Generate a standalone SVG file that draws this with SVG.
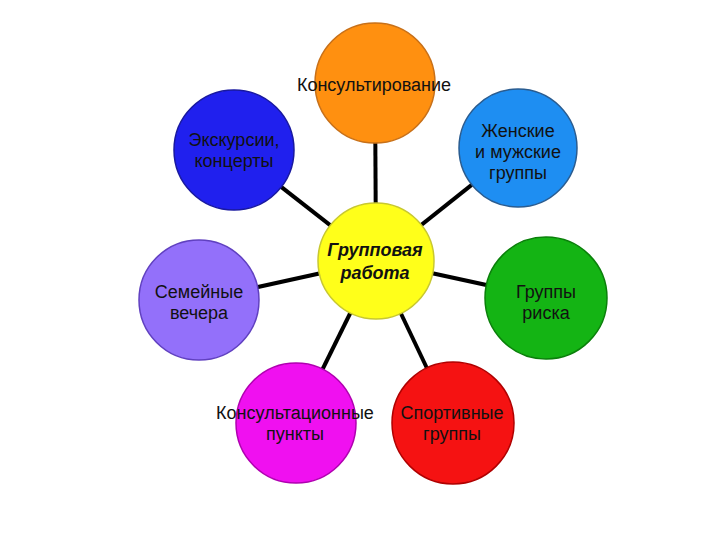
<svg xmlns="http://www.w3.org/2000/svg" width="720" height="540" viewBox="0 0 720 540">
<style>
.t{font-family:"Liberation Sans",Arial,sans-serif;font-size:18px;fill:#111;text-anchor:middle}
.b{font-weight:bold;font-style:italic}
.c{stroke-width:1.5}
.l{stroke:#000;stroke-width:4;fill:none}
</style>
<rect width="720" height="540" fill="#fff"/>
<g id="connectors">
<line class="l" x1="376" y1="261" x2="375" y2="83"/>
<line class="l" x1="376" y1="261" x2="234" y2="150"/>
<line class="l" x1="376" y1="261" x2="518" y2="148"/>
<line class="l" x1="376" y1="261" x2="199" y2="300"/>
<line class="l" x1="376" y1="261" x2="546" y2="298"/>
<line class="l" x1="376" y1="261" x2="296" y2="423"/>
<line class="l" x1="376" y1="261" x2="453" y2="423"/>
</g>
<g id="n-konsult">
<circle class="c" cx="375" cy="83" r="60" fill="#FF9010" stroke="#C87018"/>
<text class="t" x="374" y="91">Консультирование</text>
</g>
<g id="n-ekskursii">
<circle class="c" cx="234" cy="150" r="60" fill="#2020EE" stroke="#1818A0"/>
<text class="t" x="234" y="146">Экскурсии,</text>
<text class="t" x="234" y="167">концерты</text>
</g>
<g id="n-zhenskie">
<circle class="c" cx="518" cy="148" r="59" fill="#1E8EF2" stroke="#2A5C90"/>
<text class="t" x="518" y="137">Женские</text>
<text class="t" x="518" y="158">и мужские</text>
<text class="t" x="518" y="179">группы</text>
</g>
<g id="n-semeinye">
<circle class="c" cx="199" cy="300" r="60" fill="#9370FA" stroke="#6040C0"/>
<text class="t" x="199" y="298">Семейные</text>
<text class="t" x="199" y="319">вечера</text>
</g>
<g id="n-riska">
<circle class="c" cx="546" cy="298" r="61" fill="#14B414" stroke="#0A800A"/>
<text class="t" x="546" y="298">Группы</text>
<text class="t" x="546" y="319">риска</text>
</g>
<g id="n-punkty">
<circle class="c" cx="296" cy="423" r="60" fill="#F010F0" stroke="#B000B0"/>
<text class="t" x="295" y="419">Консультационные</text>
<text class="t" x="295" y="440">пункты</text>
</g>
<g id="n-sport">
<circle class="c" cx="453" cy="423" r="61" fill="#F51212" stroke="#B00000"/>
<text class="t" x="452" y="419">Спортивные</text>
<text class="t" x="452" y="440">группы</text>
</g>
<g id="n-center">
<circle class="c" cx="376" cy="261" r="58" fill="#FFFF1A" stroke="#C8C830"/>
<text class="t b" x="375" y="256">Групповая</text>
<text class="t b" x="375" y="279">работа</text>
</g>
</svg>
